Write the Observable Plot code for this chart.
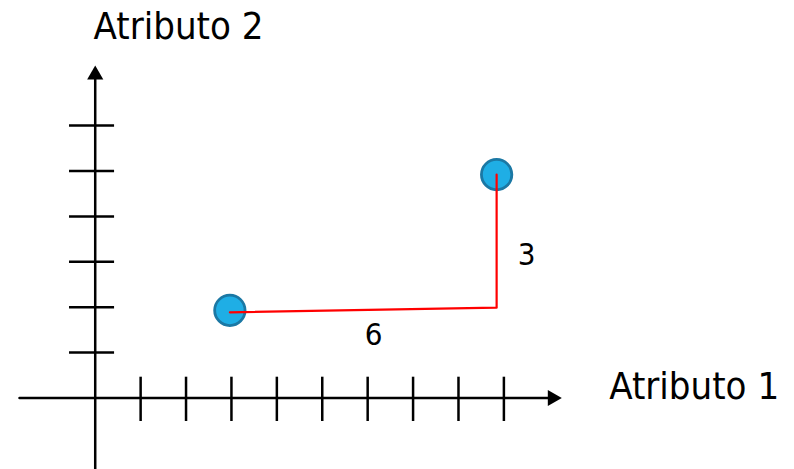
<!DOCTYPE html>
<html>
<head>
<meta charset="utf-8">
<script src="https://cdn.jsdelivr.net/npm/d3@7"></script>
<script src="https://cdn.jsdelivr.net/npm/@observablehq/plot@0.6"></script>
<style>
  html, body { margin: 0; padding: 0; background: #fff; }
  #chart svg { display: block; }
  #chart text { font-stretch: condensed; }
</style>
</head>
<body>
<div id="chart"></div>
<script>
// ---- data ----
const xTicks = [1, 2, 3, 4, 5, 6, 7, 8, 9];
const yTicks = [1, 2, 3, 4, 5, 6];
const pointX = [2.965, 8.84];
const pointY = [1.93, 4.92];
const pathX = [2.965, 8.84, 8.84];
const pathY = [1.887, 1.99, 4.92];
const distLabels = ["6", "3"];
const distX = [6.13, 9.50];
const distY = [1.38, 3.14];
const axisTitles = ["Atributo 1", "Atributo 2"];
const axisTitleX = [13.19, 1.835];
const axisTitleY = [0.25, 8.18];
const xDomain = [-2.086, 15.40];
const yDomain = [-1.575, 8.755];
const xAxisExtent = [-1.667, 10.07];
const yAxisExtent = [-1.7, 7.12];
const tickHalfX = [-0.518, 0.458]; // vertical tick extent on x axis (y units)
const tickHalfY = [-0.566, 0.426]; // horizontal tick extent on y axis (x units)

const points = pointX.map((x, i) => ({x, y: pointY[i]}));
const path = pathX.map((x, i) => ({x, y: pathY[i]}));
const dists = distLabels.map((t, i) => ({t, x: distX[i], y: distY[i]}));
const titles = axisTitles.map((t, i) => ({t, x: axisTitleX[i], y: axisTitleY[i]}));

const font = "'DejaVu Sans Condensed', 'DejaVu Sans', sans-serif";
const black = "#000";

const chart = Plot.plot({
  width: 794,
  height: 469,
  marginTop: 0, marginRight: 0, marginBottom: 0, marginLeft: 0,
  x: {domain: xDomain, axis: null},
  y: {domain: yDomain, axis: null},
  style: {fontFamily: font, background: "#fff"},
  marks: [
    // main axes
    Plot.line(xAxisExtent.map(x => ({x, y: 0})), {x: "x", y: "y", stroke: black, strokeWidth: 2.5}),
    Plot.line(yAxisExtent.map(y => ({x: 0, y})), {x: "x", y: "y", stroke: black, strokeWidth: 2.5}),
    // arrow heads
    Plot.dot([{x: xAxisExtent[1], y: 0}], {x: "x", y: "y", symbol: "triangle", r: 6, fill: black, stroke: null, rotate: 90}),
    Plot.dot([{x: 0, y: yAxisExtent[1]}], {x: "x", y: "y", symbol: "triangle", r: 6, fill: black, stroke: null}),
    // ticks
    Plot.ruleX(xTicks, {x: d => d, y1: tickHalfX[0], y2: tickHalfX[1], stroke: black, strokeWidth: 2.5}),
    Plot.ruleY(yTicks, {y: d => d, x1: tickHalfY[0], x2: tickHalfY[1], stroke: black, strokeWidth: 2.5}),
    // points
    Plot.dot(points, {x: "x", y: "y", r: 15.2, fill: "#1FAEE5", stroke: "#1B78A4", strokeWidth: 2.8}),
    // distance path
    Plot.line(path, {x: "x", y: "y", stroke: "#FF0000", strokeWidth: 2.2, curve: "linear"}),
    // labels
    Plot.text(dists, {x: "x", y: "y", text: "t", fontSize: 31, fill: black, textAnchor: "middle"}),
    Plot.text(titles, {x: "x", y: "y", text: "t", fontSize: 38, fill: black, textAnchor: "middle"})
  ]
});
document.getElementById("chart").appendChild(chart);
</script>
</body>
</html>
